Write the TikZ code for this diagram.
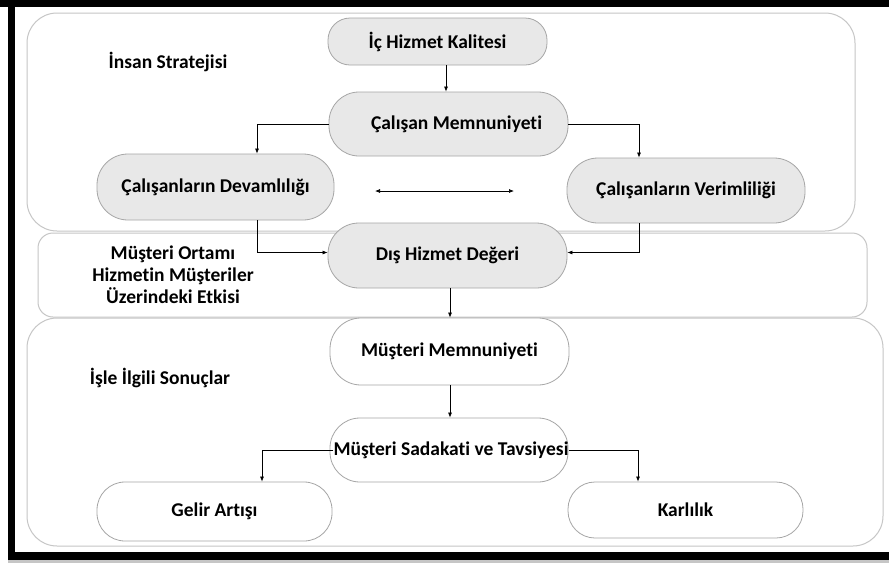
\documentclass[tikz,border=0pt]{standalone}
\usepackage{fontspec}
\setmainfont{Carlito}[Ligatures={NoCommon}]
\usetikzlibrary{arrows.meta,calc}
\tikzset{
  pill/.style={draw=gray!70, fill=gray!18, line width=0.8pt, inner sep=0pt, font=\fontsize{19.5}{22}\selectfont\bfseries},
  wpill/.style={pill, fill=white},
  region/.style={draw=gray!45, line width=1pt},
  lbl/.style={inner sep=0pt, font=\fontsize{19.5}{22}\selectfont\bfseries, align=center},
  arr/.style={draw=black, line width=0.7pt, -{Latex[length=5pt,width=4pt]}},
}
\begin{document}
\begin{tikzpicture}[x=1pt,y=-1pt]
\useasboundingbox (0,0) rectangle (889,563);
% background and frame
\fill[white] (0,0) rectangle (889,563);
\fill[gray!45] (8,558) rectangle (889,563);
\fill[black] (0,0) rectangle (889,7);
\fill[black] (8,7) rectangle (15,560);
\fill[black] (8,552) rectangle (889,560);
% regions
\draw[region, rounded corners=30pt] (27,13) rectangle (855,231);
\draw[region, rounded corners=15pt] (38,233) rectangle (867,317);
\draw[region, rounded corners=30pt] (27,318) rectangle (883,546);
% region labels
\node[lbl] (l1) at (168,62) {İnsan Stratejisi};
\node[lbl] (l2) at (173,275) {Müşteri Ortamı\\Hizmetin Müşteriler\\Üzerindeki Etkisi};
\node[lbl] (l3) at (160,378) {İşle İlgili Sonuçlar};
% nodes
\node[pill, rounded corners=22pt, minimum width=219pt, minimum height=47pt] (ic) at (437.5,41.5) {İç Hizmet Kalitesi};
\node[pill, rounded corners=30pt, minimum width=239pt, minimum height=64pt] (cm) at (448.5,124) {\hspace*{16pt}Çalışan Memnuniyeti};
\node[pill, rounded corners=31pt, minimum width=237pt, minimum height=66pt] (dev) at (215.5,187) {Çalışanların Devamlılığı};
\node[pill, rounded corners=31pt, minimum width=238pt, minimum height=65pt] (ver) at (686,190.5) {Çalışanların Verimliliği};
\node[pill, rounded corners=31pt, minimum width=239pt, minimum height=65pt] (dis) at (447.5,255.5) {Dış Hizmet Değeri};
\node[wpill, rounded corners=31pt, minimum width=239pt, minimum height=67pt] (mm) at (449.5,351.5) {Müşteri Memnuniyeti};
\node[wpill, rounded corners=30pt, minimum width=238pt, minimum height=64pt] (ms) at (449,450) {};
\node[lbl] (mst) at (451,450) {Müşteri Sadakati ve Tavsiyesi};
\node[wpill, rounded corners=28pt, minimum width=235pt, minimum height=59pt] (gelir) at (214.5,511.5) {Gelir Artışı};
\node[wpill, rounded corners=27pt, minimum width=235pt, minimum height=56pt] (karl) at (685.5,510) {Karlılık};
% double arrow
\coordinate (da1) at (375,191);
\coordinate (da2) at (514,191);
% connectors
\draw[arr] ([xshift=8.5pt]ic.south) -- ([xshift=-2.5pt]cm.north);
\draw[arr] (cm.west) -| ([xshift=41.5pt]dev.north);
\draw[arr] (cm.east) -| ([xshift=-47pt]ver.north);
\draw[line width=0.7pt, {Latex[length=5pt,width=4pt]}-{Latex[length=5pt,width=4pt]}] (da1) -- (da2);
\draw[arr] ([xshift=41.5pt]dev.south) |- ([yshift=3pt]dis.west);
\draw[arr] ([xshift=-47pt]ver.south) |- ([yshift=3pt]dis.east);
\draw[arr] ([xshift=2.5pt]dis.south) -- ([xshift=0.5pt]mm.north);
\draw[arr] ([xshift=0.5pt]mm.south) -- ([xshift=1pt]ms.north);
\draw[arr] (mst.west) -| ([xshift=47.5pt]gelir.north);
\draw[arr] (mst.east) -| ([xshift=-47.5pt]karl.north);
\end{tikzpicture}
\end{document}
